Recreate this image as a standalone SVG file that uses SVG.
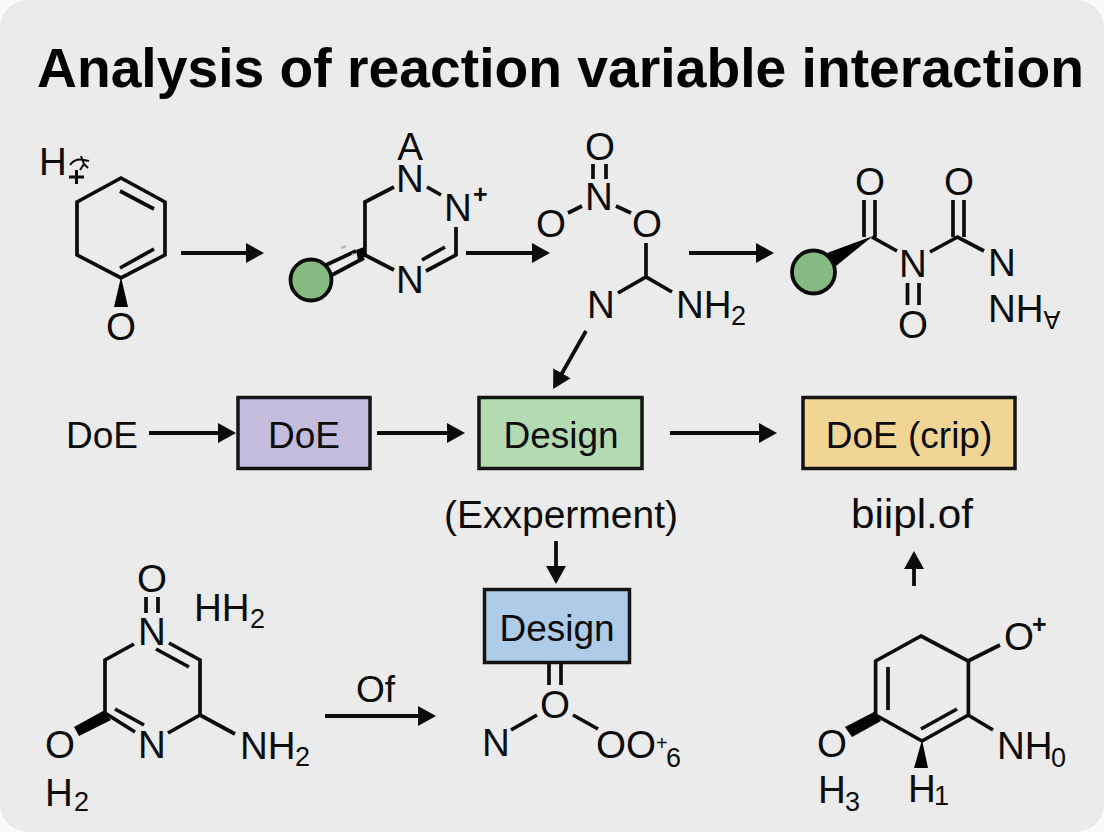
<svg xmlns="http://www.w3.org/2000/svg" width="1104" height="832" viewBox="0 0 1104 832">
<style>
text{font-family:"Liberation Sans",Arial,sans-serif;font-size:37px;fill:#0c0c0c}
g[id^="mol"] text:not(.sup){font-size:38.500px}
.c{text-anchor:middle}
.title{font-size:56px;font-weight:bold;fill:#000}
.sub{font-size:27px}
.sup{font-size:25px;font-weight:bold}
.bond{fill:none;stroke:#0c0c0c;stroke-width:3.700;stroke-linecap:butt;stroke-linejoin:miter}
.wedge{fill:#000;stroke:none}
.box{stroke:#141414;stroke-width:3.500}
.atom{fill:#85bb82;stroke:#0c0c0c;stroke-width:3.800}
.arrow{fill:none;stroke:#0c0c0c;stroke-width:3.800;marker-end:url(#head)}
</style>
<defs>
<marker id="head" markerUnits="userSpaceOnUse" markerWidth="18" markerHeight="22" viewBox="0 0 18 22" refX="2" refY="11" orient="auto">
<path d="M0,1 L18,11 L0,21 Z" fill="#0c0c0c"/>
</marker>
</defs>
<rect width="1104" height="832" fill="#fafafa"/>
<rect width="1104" height="832" rx="28" fill="#ebebeb"/>
<text id="title" class="title" x="37" y="87" textLength="1047" lengthAdjust="spacingAndGlyphs">Analysis of reaction variable interaction</text>

<g id="connectors">
<path class="arrow" d="M181,253H248"/>
<path class="arrow" d="M466,253H534"/>
<path class="arrow" d="M689,253H758"/>
<path class="arrow" d="M586,331L561,375"/>
<path class="arrow" d="M149,433H220"/>
<path class="arrow" d="M377,433H449"/>
<path class="arrow" d="M670,433H761"/>
<path class="arrow" d="M556,541V568"/>
<path class="arrow" d="M914,586V567"/>
<path class="arrow" d="M325,716H420"/>
</g>

<g id="mol-1">
<path class="bond" d="M121,178L165,202V255L121,278L77,255V202Z"/>
<path class="bond" d="M120,191L154,209M120,268L154,249"/>
<polygon class="wedge" points="121,277 114,307 128,307"/>
<text class="c" x="121" y="340">O</text>
<text x="39" y="175">H</text>
<path d="M69,177H84M76.500,170V184" fill="none" stroke="#0c0c0c" stroke-width="3"/>
<path d="M70,165Q75,158 84,160L89,161M81,156L84,164L80,170M84,164L88,168" fill="none" stroke="#0c0c0c" stroke-width="2"/>
</g>

<g id="mol-2">
<path class="bond" d="M394,187L365,202V255L394,270"/>
<path class="bond" d="M427,187L441,195M456,227V255L426,271M422,260L445,247"/>
<path class="bond" d="M326,265L356,251M332,275L364,258"/>
<polygon class="wedge" points="356,250 364,247 367,256 358,260"/>
<path d="M341,248L346,246M352,255L354,254" stroke="#bbb" stroke-width="2.500" fill="none"/>
<circle class="atom" cx="311" cy="280" r="20.500"/>
<text class="c" x="410" y="160">A</text>
<text class="c" x="410" y="192">N</text>
<text class="c" x="410" y="293">N</text>
<text class="c" x="458" y="221">N</text>
<text class="sup" x="473" y="203">+</text>
</g>

<g id="mol-3">
<path class="bond" d="M593,164V179M606,164V179M568,213L582,206M616,206L631,213M646,243V277M618,293L646,277L672,292"/>
<text class="c" x="600" y="160">O</text>
<text class="c" x="599" y="210">N</text>
<text class="c" x="551" y="237">O</text>
<text class="c" x="647" y="237">O</text>
<text class="c" x="601" y="318">N</text>
<text x="676" y="318">NH<tspan class="sub" x="731" y="325">2</tspan></text>
</g>

<g id="mol-4">
<polygon class="wedge" points="873,236 827,253 836,266"/>
<circle class="atom" cx="813.500" cy="272" r="21.500"/>
<path class="bond" d="M872,237L897,251M864,200V237M875,200V237M907.500,283V305M919,283V305M930,252L957.500,237L984,251M953,200V237M964,200V237"/>
<text class="c" x="870" y="195">O</text>
<text class="c" x="959" y="195">O</text>
<text class="c" x="913" y="277">N</text>
<text class="c" x="913" y="338">O</text>
<text class="c" x="1002" y="276">N</text>
<text x="988" y="322">NH</text>
<text class="sup" transform="rotate(180 1052 320)" x="1052" y="329" text-anchor="middle" style="font-weight:normal">A</text>
</g>

<g id="label-doe"><text x="66" y="448">DoE</text></g>
<g id="box-doe"><rect class="box" x="238" y="397.500" width="132" height="71" fill="#c3bcdc"/><text class="c" x="304" y="448">DoE</text></g>
<g id="box-design-1"><rect class="box" x="479" y="397.500" width="163" height="71" fill="#b3dab1"/><text class="c" x="561" y="448">Design</text></g>
<g id="box-doe-crip"><rect class="box" x="803" y="397.500" width="212" height="71" fill="#f0d594"/><text class="c" x="909" y="448">DoE (crip)</text></g>
<g id="label-experiment"><text class="c" x="561" y="528" style="font-size:39px">(Exxperment)</text></g>
<g id="label-biipl"><text x="851" y="528" textLength="122" lengthAdjust="spacingAndGlyphs" style="font-size:41px">biipl.of</text></g>

<g id="mol-5">
<path class="bond" d="M146,597V613M158,597V613M134,644L105,660V713L135,732M115,709L144,725M168,733L200,715V660L169,643M156,649L189,667M200,715L235,734"/>
<polygon class="wedge" points="103,711 111,720 79,736 74,727"/>
<text class="c" x="152" y="592">O</text>
<text class="c" x="152" y="645">N</text>
<text class="c" x="152" y="758">N</text>
<text x="194" y="621">HH<tspan class="sub" x="250" y="628">2</tspan></text>
<text x="240" y="759">NH<tspan class="sub" x="295" y="766">2</tspan></text>
<text class="c" x="60" y="758">O</text>
<text x="45" y="806">H<tspan class="sub" x="74" y="811">2</tspan></text>
</g>
<g id="label-of"><text x="356" y="702">Of</text></g>

<g id="box-design-2"><rect class="box" x="484.500" y="589.500" width="145" height="73" fill="#aecbe8"/><text class="c" x="557" y="641">Design</text></g>
<g id="mol-6">
<path class="bond" d="M549,663V685M561,663V685M511,730L537,715M573,715L598,729"/>
<text class="c" x="555" y="718">O</text>
<text x="482" y="756">N</text>
<text x="596" y="758">OO<tspan style="font-size:20px" x="656" y="750">+</tspan><tspan class="sub" x="666" y="767">6</tspan></text>
</g>

<g id="mol-7">
<path class="bond" d="M921,636L968.400,661V715L922,741L875.600,715V661Z"/>
<path class="bond" d="M888,667V710M921,729L957,709M968,661L1000,645M968,715L993,730"/>
<polygon class="wedge" points="874,712 881,721 852,737 845,727"/>
<polygon class="wedge" points="922,740 914,768 928,768"/>
<text x="1004" y="650">O</text>
<text class="sup" x="1032" y="633">+</text>
<text x="997" y="759">NH<tspan class="sub" x="1051" y="767">0</tspan></text>
<text class="c" x="832" y="757">O</text>
<text x="818" y="803">H<tspan class="sub" x="845" y="811">3</tspan></text>
<text x="908" y="802">H<tspan class="sub" x="934" y="805">1</tspan></text>
</g>
</svg>
